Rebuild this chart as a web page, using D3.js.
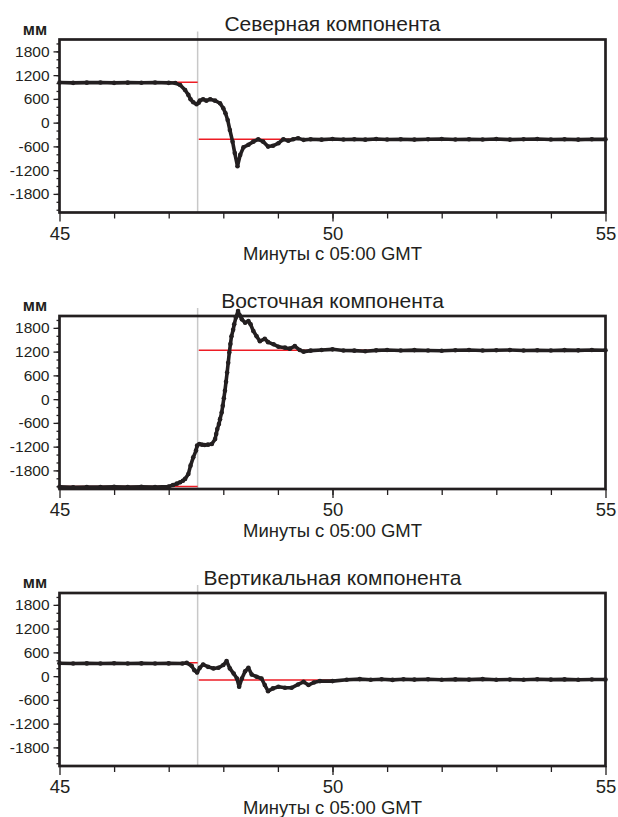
<!DOCTYPE html>
<html>
<head>
<meta charset="utf-8">
<script src="https://cdn.jsdelivr.net/npm/d3@7"></script>
<style>
  body { margin: 0; background: #fff; }
  text { font-family: "Liberation Sans", Arial, sans-serif; fill: #231f20; }
</style>
</head>
<body>
<div id="chart"></div>
<script>
// frame size
const FRAME_WIDTH = 618;
const FRAME_HEIGHT = 817;
const PLOT_LEFT = 59.5;
const PLOT_WIDTH = 546;
const PLOT_HEIGHT = 173;
const PANEL_TOPS = [39.5, 316, 593];

// data: [minute, mm]
const TITLES = ["Северная компонента", "Восточная компонента", "Вертикальная компонента"];
const X_LABEL = "Минуты с 05:00 GMT";
const UNIT = "мм";
const X_TICKS = [45, 50, 55];
const Y_TICKS = [-1800, -1200, -600, 0, 600, 1200, 1800];
const EVENT_TIME = 47.53;

const north = [
  [45.00, 1015], [45.25, 1005], [45.50, 1010], [45.75, 1012], [46.00, 1005], [46.25, 1010],
  [46.50, 1008], [46.75, 1012], [47.00, 1005], [47.12, 1000], [47.21, 950], [47.30, 825],
  [47.36, 700], [47.40, 590], [47.45, 515], [47.51, 465], [47.55, 505], [47.57, 555],
  [47.63, 590], [47.69, 555], [47.76, 590], [47.85, 555], [47.94, 490], [48.00, 365],
  [48.04, 237], [48.08, 68], [48.12, -185], [48.17, -480], [48.21, -770], [48.26, -1100],
  [48.31, -815], [48.37, -620], [48.46, -560], [48.55, -480], [48.64, -420], [48.73, -480],
  [48.82, -605], [48.91, -585], [49.01, -520], [49.10, -420], [49.19, -455], [49.28, -420],
  [49.37, -395], [49.47, -435], [49.60, -420], [49.80, -430], [50.00, -415], [50.20, -425],
  [50.40, -420], [50.60, -430], [50.80, -412], [51.00, -425], [51.25, -418], [51.50, -428],
  [51.75, -420], [52.00, -412], [52.25, -425], [52.50, -418], [52.75, -425], [53.00, -415],
  [53.25, -428], [53.50, -420], [53.75, -415], [54.00, -425], [54.25, -420], [54.50, -428],
  [54.75, -418], [55.00, -422]
];

const east = [
  [45.00, -2215], [45.25, -2225], [45.50, -2218], [45.75, -2222], [46.00, -2212], [46.25, -2220],
  [46.50, -2215], [46.75, -2218], [47.00, -2205], [47.08, -2170], [47.15, -2135], [47.21, -2100],
  [47.26, -2060], [47.30, -2015], [47.36, -1890], [47.40, -1680], [47.45, -1470], [47.50, -1300],
  [47.52, -1175], [47.56, -1135], [47.61, -1150], [47.66, -1160], [47.72, -1150], [47.79, -1135],
  [47.85, -1010], [47.87, -880], [47.89, -755], [47.92, -630], [47.94, -505], [47.97, -340],
  [47.99, -170], [48.01, 20], [48.03, 210], [48.05, 440], [48.07, 670], [48.09, 920],
  [48.11, 1175], [48.13, 1390], [48.15, 1590], [48.18, 1750], [48.20, 1890], [48.23, 2060],
  [48.27, 2225], [48.30, 2120], [48.34, 2015], [48.40, 1930], [48.46, 1970], [48.50, 1890],
  [48.55, 1720], [48.61, 1590], [48.67, 1465], [48.76, 1525], [48.82, 1440], [48.92, 1385],
  [49.01, 1325], [49.13, 1300], [49.22, 1275], [49.31, 1340], [49.40, 1240], [49.47, 1200],
  [49.60, 1225], [49.80, 1240], [50.00, 1258], [50.20, 1230], [50.40, 1225], [50.60, 1210],
  [50.80, 1232], [51.00, 1240], [51.25, 1228], [51.50, 1238], [51.75, 1230], [52.00, 1222],
  [52.25, 1235], [52.50, 1240], [52.75, 1228], [53.00, 1235], [53.25, 1242], [53.50, 1230],
  [53.75, 1236], [54.00, 1228], [54.25, 1238], [54.50, 1232], [54.75, 1240], [55.00, 1235]
];

const vertical = [
  [45.00, 325], [45.25, 320], [45.50, 322], [45.75, 318], [46.00, 324], [46.25, 320],
  [46.50, 322], [46.75, 318], [47.00, 322], [47.25, 320], [47.33, 335], [47.42, 260],
  [47.47, 150], [47.52, 90], [47.57, 210], [47.63, 295], [47.72, 235], [47.82, 195],
  [47.91, 210], [48.00, 280], [48.06, 380], [48.12, 195], [48.19, 65], [48.25, -60],
  [48.29, -270], [48.34, -60], [48.40, 125], [48.46, 210], [48.52, 40], [48.61, -15],
  [48.70, -60], [48.76, -225], [48.82, -380], [48.91, -310], [49.01, -270], [49.13, -295],
  [49.25, -295], [49.37, -210], [49.47, -145], [49.56, -225], [49.66, -160], [49.77, -125],
  [50.00, -125], [50.26, -90], [50.50, -75], [50.70, -90], [50.90, -80], [51.10, -95],
  [51.30, -80], [51.50, -88], [51.75, -78], [52.00, -92], [52.25, -82], [52.50, -88],
  [52.75, -76], [53.00, -90], [53.25, -84], [53.50, -92], [53.75, -80], [54.00, -88],
  [54.25, -82], [54.50, -90], [54.75, -84], [55.00, -86]
];

// red reference levels: [from, to, mm]
const northLevels = [[45, EVENT_TIME, 1020], [47.55, 55, -420]];
const eastLevels = [[45, EVENT_TIME, -2210], [47.55, 55, 1235]];
const verticalLevels = [[45, EVENT_TIME, 335], [47.55, 55, -100]];

const INK = "#231f20";

const svg = d3.select("#chart")
  .append("svg")
    .attr("width", FRAME_WIDTH)
    .attr("height", FRAME_HEIGHT);

const x = d3.scaleLinear()
  .domain([45, 55])
  .range([PLOT_LEFT, PLOT_LEFT + PLOT_WIDTH]);

function drawPanel(top, title, data, levels) {
  const y = d3.scaleLinear()
    .domain([-2270, 2100])
    .range([top + PLOT_HEIGHT, top]);
  const bottom = top + PLOT_HEIGHT;
  const g = svg.append("g");

  // titles
  g.append("text")
    .attr("x", PLOT_LEFT + PLOT_WIDTH / 2)
    .attr("y", top - 8.5)
    .attr("text-anchor", "middle")
    .style("font-size", "21px")
    .text(title);

  g.append("text")
    .attr("x", 35)
    .attr("y", top - 5)
    .attr("text-anchor", "middle")
    .style("font-size", "16.5px")
    .style("font-weight", "bold")
    .text(UNIT);

  // y axis: minor then major
  g.append("g")
    .attr("transform", "translate(" + PLOT_LEFT + ",0)")
    .call(d3.axisLeft(y).tickValues(d3.range(-2200, 2101, 200)).tickSize(3).tickFormat(""))
    .call(a => a.select(".domain").remove());
  g.append("g")
    .attr("transform", "translate(" + PLOT_LEFT + ",0)")
    .call(d3.axisLeft(y).tickValues(Y_TICKS).tickSize(6).tickPadding(4).tickFormat(d => String(d)))
    .call(a => a.select(".domain").remove())
    .call(a => a.selectAll("text").style("font-size", "15.5px").attr("fill", INK));

  // x axis
  g.append("g")
    .attr("transform", "translate(0," + bottom + ")")
    .call(d3.axisBottom(x).tickValues(d3.range(46, 55, 1)).tickSize(6).tickFormat(""))
    .call(a => a.select(".domain").remove());
  g.append("g")
    .attr("transform", "translate(0," + bottom + ")")
    .call(d3.axisBottom(x).tickValues(X_TICKS).tickSize(9).tickPadding(5))
    .call(a => a.select(".domain").remove())
    .call(a => a.selectAll("text").style("font-size", "18.5px").attr("fill", INK));

  g.selectAll(".tick line").attr("stroke", INK).attr("stroke-width", 1.3);

  g.append("text")
    .attr("x", PLOT_LEFT + PLOT_WIDTH / 2)
    .attr("y", bottom + 47.5)
    .attr("text-anchor", "middle")
    .style("font-size", "18.5px")
    .text(X_LABEL);

  // event marker
  g.append("line")
    .attr("x1", x(EVENT_TIME)).attr("x2", x(EVENT_TIME))
    .attr("y1", top - 8).attr("y2", bottom)
    .attr("stroke", "#c8c8c8")
    .attr("stroke-width", 1.5);

  // reference levels
  g.selectAll(".level")
    .data(levels)
    .enter()
    .append("line")
      .attr("x1", d => x(d[0]))
      .attr("x2", d => x(d[1]))
      .attr("y1", d => y(d[2]))
      .attr("y2", d => y(d[2]))
      .attr("stroke", "#ed1c24")
      .attr("stroke-width", 1.5);

  // frame
  g.append("rect")
    .attr("x", PLOT_LEFT)
    .attr("y", top)
    .attr("width", PLOT_WIDTH)
    .attr("height", PLOT_HEIGHT)
    .attr("fill", "none")
    .attr("stroke", INK)
    .attr("stroke-width", 2.7);

  // series
  g.append("path")
    .datum(data)
    .attr("fill", "none")
    .attr("stroke", INK)
    .attr("stroke-width", 3.6)
    .attr("stroke-linejoin", "round")
    .attr("d", d3.line()
      .x(d => x(d[0]))
      .y(d => y(d[1])));

  g.selectAll(".pt")
    .data(data)
    .enter()
    .append("circle")
      .attr("cx", d => x(d[0]))
      .attr("cy", d => y(d[1]))
      .attr("r", 2.3)
      .attr("fill", INK);
}

drawPanel(PANEL_TOPS[0], TITLES[0], north, northLevels);
drawPanel(PANEL_TOPS[1], TITLES[1], east, eastLevels);
drawPanel(PANEL_TOPS[2], TITLES[2], vertical, verticalLevels);
</script>
</body>
</html>
